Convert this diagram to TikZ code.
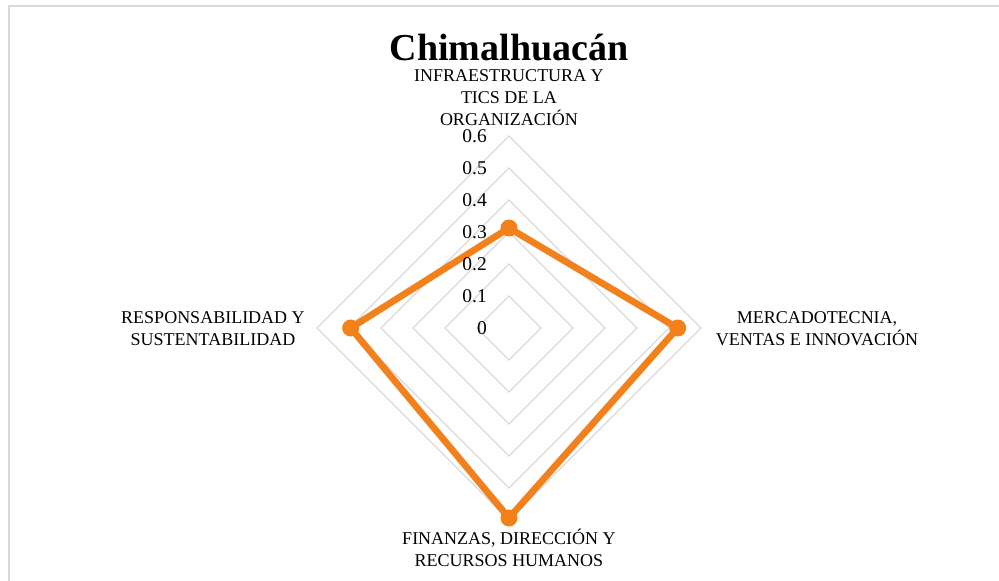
\documentclass[tikz,border=0pt]{standalone}
\usepackage{fontspec}
\setmainfont{Liberation Serif}
\usepackage{xcolor}
\usepackage{tikz}
\definecolor{gridgray}{RGB}{217,217,217}
\definecolor{serieorange}{RGB}{243,128,24}
\tikzset{
  ring/.style={draw=gridgray, line width=1.3pt},
  axislabel/.style={align=center, inner sep=0pt, anchor=north, font=\fontsize{18}{22}\selectfont},
  ticklabel/.style={anchor=east, inner sep=0pt, font=\fontsize{19.5}{22}\selectfont},
  serie/.style={draw=serieorange, line width=6.5pt, line join=round},
  punto/.style={circle, fill=serieorange, inner sep=0pt, minimum size=17pt}
}

\begin{document}
\begin{tikzpicture}[x=1pt,y=1pt]
	\useasboundingbox (-509,-253) rectangle (490,328);
	\draw [gridgray, line width=1.5pt] (-500,-253) -- (-500,322) -- (490,322);
	\foreach \k in {1,...,6}
		\draw [ring] (0,\k*32) -- (\k*32,0) -- (0,-\k*32) -- (-\k*32,0) -- cycle;
	\coordinate (p1) at (0,100);
	\coordinate (p2) at (168.7,0);
	\coordinate (p3) at (0,-190);
	\coordinate (p4) at (-158.3,0);
	\draw [black, opacity=0.15, line width=7pt, line join=round, shift={(1.5,-2.5)}] (p1) -- (p2) -- (p3) -- (p4) -- cycle;
	\draw [serie] (p1) -- (p2) -- (p3) -- (p4) -- cycle;
	\foreach \i in {1,...,4}
		\node [punto] (m\i) at (p\i) {};
	\foreach \k/\v in {0/0, 1/0.1, 2/0.2, 3/0.3, 4/0.4, 5/0.5, 6/0.6}
		\node [ticklabel] (t\k) at (-22,\k*32) {\v};
	\node [anchor=base, inner sep=0pt, font=\fontsize{38}{44}\selectfont\bfseries] (titulo) at (0,267) {Chimalhuacán};
	\node [axislabel] (infra) at (0,259) {INFRAESTRUCTURA Y\\TICS DE LA\\ORGANIZACIÓN};
	\node [axislabel] (merca) at (308,17) {MERCADOTECNIA,\\VENTAS E INNOVACIÓN};
	\node [axislabel] (finan) at (0,-201) {FINANZAS, DIRECCIÓN Y\\RECURSOS HUMANOS};
	\node [axislabel] (respo) at (-296,17) {RESPONSABILIDAD Y\\SUSTENTABILIDAD};
\end{tikzpicture}
\end{document}
